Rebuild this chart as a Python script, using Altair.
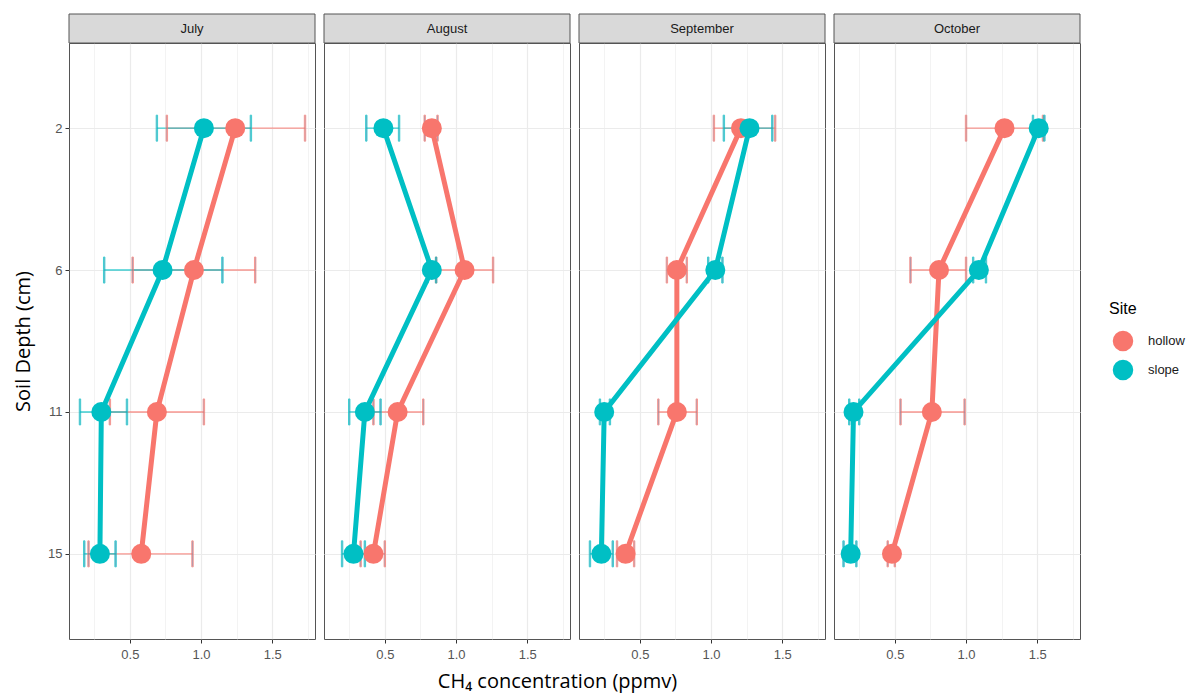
import altair as alt
import pandas as pd

months = ["July", "August", "September", "October"]
depths = [2, 6, 11, 15]
sites = ["hollow", "slope"]
legend_title = ["Site"]

# mean CH4 per month, values for depths 2, 6, 11, 15
hollow_mean = {
    "July": [1.24, 0.95, 0.69, 0.58],
    "August": [0.83, 1.06, 0.59, 0.42],
    "September": [1.21, 0.76, 0.76, 0.40],
    "October": [1.27, 0.81, 0.76, 0.48],
}
hollow_lo = {
    "July": [0.76, 0.52, 0.36, 0.21],
    "August": [0.78, 0.86, 0.42, 0.33],
    "September": [1.02, 0.69, 0.63, 0.34],
    "October": [1.00, 0.61, 0.54, 0.45],
}
hollow_hi = {
    "July": [1.73, 1.38, 1.02, 0.94],
    "August": [0.87, 1.26, 0.77, 0.50],
    "September": [1.45, 0.83, 0.90, 0.46],
    "October": [1.54, 1.00, 0.99, 0.50],
}
slope_mean = {
    "July": [1.02, 0.73, 0.30, 0.29],
    "August": [0.49, 0.83, 0.36, 0.28],
    "September": [1.27, 1.03, 0.25, 0.23],
    "October": [1.51, 1.09, 0.21, 0.19],
}
slope_lo = {
    "July": [0.69, 0.32, 0.15, 0.18],
    "August": [0.37, 0.80, 0.25, 0.20],
    "September": [1.09, 0.98, 0.22, 0.15],
    "October": [1.47, 1.05, 0.18, 0.14],
}
slope_hi = {
    "July": [1.35, 1.15, 0.48, 0.40],
    "August": [0.60, 0.86, 0.47, 0.36],
    "September": [1.43, 1.08, 0.29, 0.31],
    "October": [1.55, 1.14, 0.25, 0.23],
}

x_grid_values = [0.25, 0.5, 0.75, 1.0, 1.25, 1.5, 1.75]

rows = []
for m in months:
    for s, (mn, lo, hi) in zip(sites, [(hollow_mean, hollow_lo, hollow_hi), (slope_mean, slope_lo, slope_hi)]):
        for i, d in enumerate(depths):
            rows.append({"month": m, "site": s, "depth": d,
                         "mean": mn[m][i], "lo": lo[m][i], "hi": hi[m][i]})
df = pd.DataFrame(rows)
site_df = pd.DataFrame({"site": sites})
title_df = pd.DataFrame({"t": legend_title})

W, H = 246, 596
GAP = 9
STRIP = 29
FONT = "Liberation Sans"
TFONT = "Open Sans"
colors = ["#F8766D", "#00BFC4"]

minor_test = "datum.value % 0.5 != 0"

site_scale = alt.Scale(domain=sites, range=colors)


def color_enc():
    return alt.Color("site:N", scale=site_scale, legend=None)


def stroke_enc():
    return alt.Stroke("site:N", scale=site_scale, legend=None)


def panel(idx, m):
    base = alt.Chart(df).transform_filter(alt.datum.month == m)

    x_title = "CH\u2084 concentration (ppmv)" if idx == 1 else ""
    x_axis = alt.Axis(values=x_grid_values,
                      labelExpr="datum.value % 0.5 == 0 ? format(datum.value, '.1f') : ''",
                      grid=True, gridColor="#EBEBEB",
                      gridWidth={"condition": {"test": minor_test, "value": 0.6}, "value": 1.2},
                      tickOpacity={"condition": {"test": minor_test, "value": 0}, "value": 1},
                      tickColor="#333333", tickSize=4, tickWidth=1,
                      labelColor="#555555", labelFontSize=13, labelPadding=5,
                      domain=False, title=x_title, titleFont=TFONT, titleFontSize=20,
                      titleFontWeight="normal", titleColor="#000000", titlePadding=10,
                      titleX=233)
    if idx == 0:
        y_axis = alt.Axis(title="Soil Depth (cm)", titleFont=TFONT, titleFontSize=20,
                          titleFontWeight="normal", titleColor="#000000", titlePadding=14,
                          labelColor="#555555", labelFontSize=13, labelAngle=0, labelPadding=3,
                          tickColor="#333333", tickSize=4, domain=False,
                          grid=True, gridColor="#EBEBEB", gridWidth=1.2)
    else:
        y_axis = alt.Axis(title="", labels=False, ticks=False, domain=False,
                          grid=True, gridColor="#EBEBEB", gridWidth=1.2,
                          minExtent=0, maxExtent=0)

    x_scale = alt.Scale(domain=[0.073, 1.80], nice=False, zero=False)
    y_scale = alt.Scale(type="point", padding=0.6)

    xq = alt.X("mean:Q", scale=x_scale, axis=x_axis)
    yq = alt.Y("depth:O", sort=depths, scale=y_scale, axis=y_axis)

    one = base.transform_filter((alt.datum.site == "hollow") & (alt.datum.depth == 2))
    strip_rect = one.mark_rect(fill="#D9D9D9", stroke="#555555", strokeWidth=1).encode(
        x=alt.value(0), x2=alt.value(W), y=alt.value(-STRIP), y2=alt.value(0))
    strip_text = one.mark_text(fontSize=13, color="#1A1A1A", font=FONT).encode(
        x=alt.value(W / 2), y=alt.value(-STRIP / 2), text="month:N")

    err = base.mark_rule(strokeWidth=1.4, opacity=0.75).encode(
        x=alt.X("lo:Q", scale=x_scale, axis=x_axis), x2="hi:Q", y=yq, stroke=stroke_enc())
    cap_lo = base.mark_tick(thickness=1.4, size=26, opacity=0.75).encode(
        x=alt.X("lo:Q", scale=x_scale, axis=x_axis), y=yq, stroke=stroke_enc())
    cap_hi = base.mark_tick(thickness=1.4, size=26, opacity=0.75).encode(
        x=alt.X("hi:Q", scale=x_scale, axis=x_axis), y=yq, stroke=stroke_enc())
    line = base.mark_line(strokeWidth=5).encode(
        x=xq, y=yq, stroke=stroke_enc(), order=alt.Order("depth:Q"))
    pts = base.mark_circle(size=400, opacity=1).encode(
        x=xq, y=yq, color=color_enc())

    return alt.layer(strip_rect, strip_text, err, cap_lo, cap_hi, line, pts).properties(
        width=W, height=H)


# legend drawn from the site list through the shared colour scale
lg_y = alt.Y("site:N", sort=sites,
             scale=alt.Scale(type="point", domain=sites, range=[298, 327], padding=0),
             axis=None)
lg_title = alt.Chart(title_df).mark_text(align="left", baseline="middle", fontSize=16,
                                         font=FONT, color="#000000").encode(
    x=alt.value(20), y=alt.value(266), text="t:N")
lg_pts = alt.Chart(site_df).mark_circle(size=420, opacity=1).encode(
    x=alt.value(34), y=lg_y, color=color_enc())
lg_txt = alt.Chart(site_df).mark_text(align="left", baseline="middle", fontSize=13,
                                      font=FONT, color="#1A1A1A").encode(
    x=alt.value(59), y=lg_y, text="site:N")
legend = alt.layer(lg_title, lg_pts, lg_txt).properties(
    width=85, height=H, view=alt.ViewBackground(stroke="transparent"))

chart = alt.hconcat(*[panel(i, m) for i, m in enumerate(months)], legend, spacing=GAP,
                    bounds="flush").properties(
    padding={"left": 5, "top": 5, "right": 0, "bottom": 5}
).configure(
    font=FONT
).configure_view(stroke="#555555", strokeWidth=1)

chart.save("out.html", embed_options={"renderer": "svg", "actions": False})
